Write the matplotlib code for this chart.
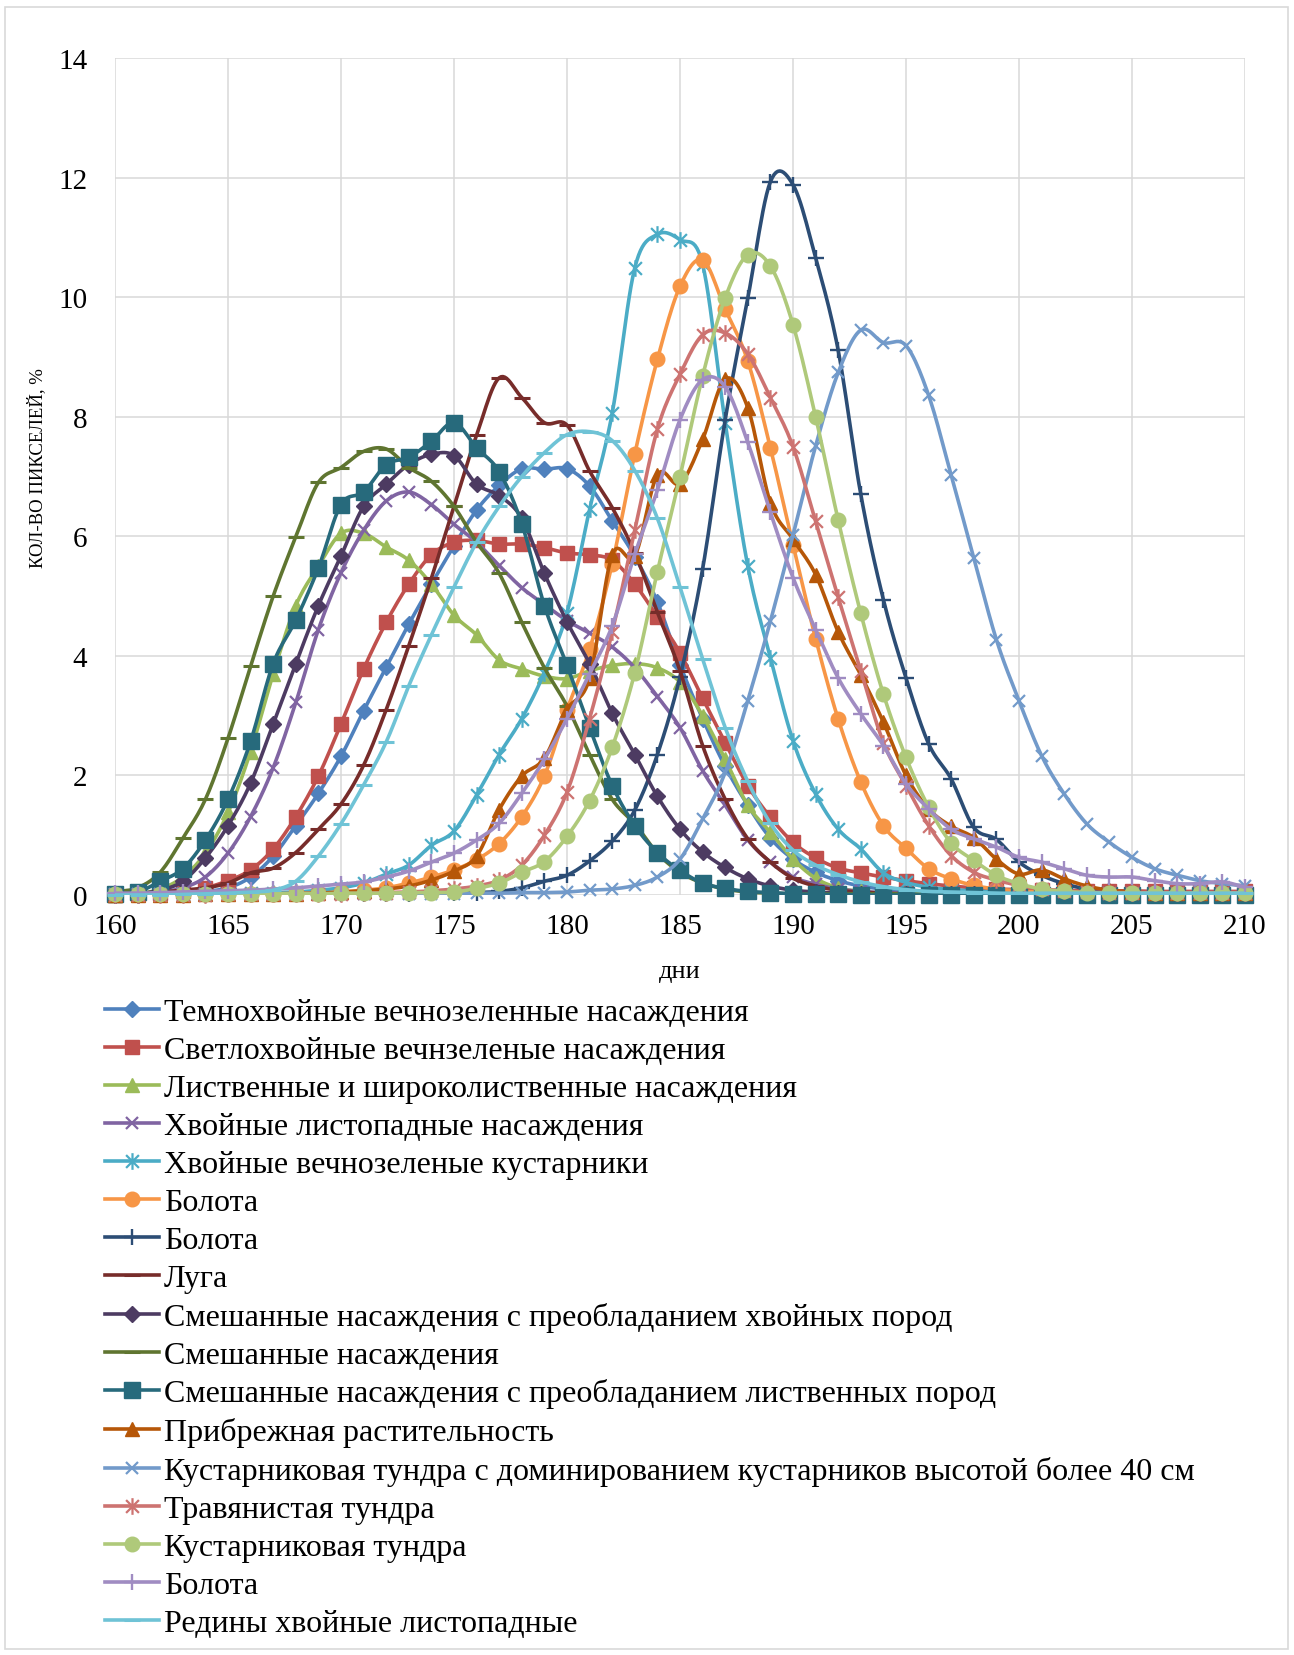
import numpy as np
import matplotlib
matplotlib.use("Agg")
import matplotlib.pyplot as plt
from matplotlib.path import Path
from matplotlib.lines import Line2D
from matplotlib.patches import Rectangle

plt.rcParams['font.family'] = ['Liberation Serif', 'DejaVu Serif']

days = list(range(160, 211))

labels = [
    "Темнохвойные вечнозеленные насаждения",
    "Светлохвойные вечнзеленые насаждения",
    "Лиственные и широколиственные насаждения",
    "Хвойные листопадные насаждения",
    "Хвойные вечнозеленые кустарники",
    "Болота",
    "Болота",
    "Луга",
    "Смешанные насаждения с преобладанием хвойных пород",
    "Смешанные насаждения",
    "Смешанные насаждения с преобладанием лиственных пород",
    "Прибрежная растительность",
    "Кустарниковая тундра с доминированием кустарников высотой более 40 см",
    "Травянистая тундра",
    "Кустарниковая тундра",
    "Болота",
    "Редины хвойные листопадные",
]

temnokhvoynye = [0, 0, 0.01, 0.03, 0.06, 0.12, 0.3, 0.65, 1.16, 1.7,
                 2.32, 3.08, 3.81, 4.53, 5.2, 5.84, 6.44, 6.85, 7.13, 7.12,
                 7.13, 6.84, 6.26, 5.66, 4.9, 3.85, 2.95, 2.15, 1.5, 0.95,
                 0.6, 0.38, 0.24, 0.15, 0.1, 0.07, 0.05, 0.04, 0.03, 0.02,
                 0.02, 0.01, 0.01, 0.01, 0.01, 0.01, 0.01, 0.01, 0.01, 0.01, 0.01]
svetlokhvoynye = [0, 0.01, 0.03, 0.06, 0.12, 0.24, 0.42, 0.77, 1.31, 1.99,
                  2.86, 3.78, 4.56, 5.2, 5.69, 5.9, 5.93, 5.87, 5.87, 5.81,
                  5.72, 5.69, 5.6, 5.2, 4.65, 4.05, 3.29, 2.55, 1.83, 1.3,
                  0.88, 0.62, 0.45, 0.37, 0.3, 0.24, 0.19, 0.15, 0.12, 0.1,
                  0.09, 0.08, 0.08, 0.07, 0.07, 0.07, 0.06, 0.06, 0.06, 0.06, 0.06]
listvennye = [0, 0.02, 0.1, 0.3, 0.7, 1.38, 2.4, 3.7, 4.84, 5.5,
              6.05, 6.05, 5.82, 5.6, 5.2, 4.68, 4.35, 3.93, 3.78, 3.66,
              3.62, 3.75, 3.84, 3.87, 3.8, 3.56, 3.0, 2.27, 1.5, 1.05,
              0.6, 0.28, 0.12, 0.06, 0.03, 0.02, 0.01, 0.01, 0.01, 0.01,
              0.01, 0.01, 0.01, 0.01, 0.01, 0.01, 0.01, 0.01, 0.01, 0.01, 0.01]
khv_listopadnye = [0, 0.02, 0.05, 0.12, 0.3, 0.7, 1.31, 2.13, 3.22, 4.44,
                   5.39, 6.1, 6.59, 6.74, 6.53, 6.2, 5.9, 5.51, 5.14, 4.86,
                   4.59, 4.38, 4.15, 3.8, 3.32, 2.8, 2.08, 1.5, 0.92, 0.55,
                   0.3, 0.18, 0.1, 0.06, 0.04, 0.03, 0.02, 0.02, 0.02, 0.01,
                   0.01, 0.01, 0.01, 0.01, 0.01, 0.01, 0.01, 0.01, 0.01, 0.01, 0.01]
khv_kustarniki = [0, 0, 0.01, 0.01, 0.02, 0.02, 0.03, 0.04, 0.05, 0.08,
                  0.12, 0.2, 0.35, 0.5, 0.83, 1.07, 1.67, 2.35, 2.95, 3.72,
                  4.72, 6.45, 8.06, 10.49, 11.05, 10.96, 10.55, 7.9, 5.5, 3.97,
                  2.58, 1.69, 1.1, 0.77, 0.37, 0.21, 0.13, 0.09, 0.07, 0.05,
                  0.04, 0.03, 0.03, 0.02, 0.02, 0.02, 0.02, 0.02, 0.02, 0.02, 0.02]
bolota_1 = [0.02, 0.02, 0.02, 0.02, 0.02, 0.02, 0.02, 0.02, 0.03, 0.03,
            0.05, 0.08, 0.12, 0.2, 0.3, 0.42, 0.59, 0.86, 1.31, 1.99,
            3.1, 4.11, 5.54, 7.38, 8.96, 10.18, 10.62, 9.8, 8.93, 7.48,
            5.86, 4.29, 2.94, 1.89, 1.16, 0.78, 0.44, 0.27, 0.16, 0.1,
            0.07, 0.05, 0.04, 0.03, 0.03, 0.03, 0.03, 0.03, 0.03, 0.03, 0.03]
bolota_2 = [0.02, 0.02, 0.02, 0.02, 0.02, 0.02, 0.02, 0.02, 0.02, 0.02,
            0.02, 0.02, 0.02, 0.02, 0.03, 0.03, 0.04, 0.06, 0.12, 0.23,
            0.33, 0.57, 0.9, 1.42, 2.35, 3.65, 5.45, 7.95, 9.98, 11.93,
            11.88, 10.66, 9.11, 6.7, 4.94, 3.63, 2.53, 1.94, 1.13, 0.93,
            0.55, 0.33, 0.19, 0.1, 0.06, 0.04, 0.03, 0.02, 0.02, 0.02, 0.02]
luga = [0.02, 0.03, 0.05, 0.08, 0.12, 0.2, 0.37, 0.45, 0.71, 1.1,
        1.52, 2.17, 3.1, 4.17, 5.3, 6.5, 7.69, 8.65, 8.32, 7.9,
        7.86, 7.09, 6.48, 5.72, 4.73, 3.75, 2.5, 1.6, 0.94, 0.55,
        0.28, 0.15, 0.08, 0.05, 0.03, 0.02, 0.02, 0.02, 0.02, 0.02,
        0.02, 0.02, 0.02, 0.02, 0.02, 0.02, 0.02, 0.02, 0.02, 0.02, 0.02]
smesh_khvoynye = [0, 0.02, 0.08, 0.23, 0.62, 1.16, 1.87, 2.86, 3.87, 4.84,
                  5.67, 6.5, 6.87, 7.2, 7.37, 7.35, 6.87, 6.68, 6.3, 5.38,
                  4.57, 3.87, 3.04, 2.35, 1.65, 1.1, 0.72, 0.46, 0.27, 0.15,
                  0.08, 0.05, 0.03, 0.02, 0.01, 0.01, 0.01, 0.01, 0.01, 0.01,
                  0.01, 0.01, 0.01, 0.01, 0.01, 0.01, 0.01, 0.01, 0.01, 0.01, 0.01]
smeshannye = [0.05, 0.12, 0.38, 0.95, 1.6, 2.62, 3.83, 5.0, 5.99, 6.9,
              7.15, 7.42, 7.46, 7.15, 6.92, 6.5, 5.9, 5.38, 4.56, 3.8,
              3.16, 2.35, 1.6, 1.19, 0.7, 0.38, 0.2, 0.1, 0.05, 0.03,
              0.02, 0.02, 0.02, 0.02, 0.02, 0.02, 0.02, 0.02, 0.02, 0.02,
              0.02, 0.02, 0.02, 0.02, 0.02, 0.02, 0.02, 0.02, 0.02, 0.02, 0.02]
smesh_listvennye = [0.02, 0.05, 0.23, 0.44, 0.92, 1.6, 2.57, 3.87, 4.6, 5.47,
                    6.53, 6.74, 7.2, 7.32, 7.59, 7.9, 7.48, 7.08, 6.21, 4.84,
                    3.84, 2.8, 1.83, 1.16, 0.71, 0.41, 0.2, 0.11, 0.06, 0.04,
                    0.02, 0.01, 0.01, 0, 0, 0, 0, 0, 0, 0,
                    0, 0, 0, 0, 0, 0, 0, 0, 0, 0, 0]
pribrezhnaya = [0, 0, 0, 0, 0.01, 0.01, 0.01, 0.02, 0.02, 0.03,
                0.05, 0.07, 0.1, 0.15, 0.25, 0.4, 0.65, 1.43, 1.99, 2.29,
                3.1, 3.63, 5.69, 5.67, 7.03, 6.88, 7.62, 8.63, 8.15, 6.56,
                5.95, 5.36, 4.4, 3.68, 2.89, 2.0, 1.44, 1.15, 0.96, 0.6,
                0.35, 0.42, 0.27, 0.15, 0.08, 0.05, 0.03, 0.03, 0.03, 0.03, 0.03]
kust_tundra_40 = [0.02, 0.02, 0.02, 0.02, 0.02, 0.02, 0.02, 0.02, 0.02, 0.02,
                  0.02, 0.02, 0.02, 0.02, 0.02, 0.02, 0.03, 0.03, 0.04, 0.04,
                  0.05, 0.08, 0.1, 0.16, 0.3, 0.6, 1.27, 2.05, 3.25, 4.58,
                  6.02, 7.51, 8.74, 9.45, 9.24, 9.19, 8.36, 7.02, 5.64, 4.27,
                  3.25, 2.33, 1.69, 1.19, 0.88, 0.63, 0.44, 0.33, 0.24, 0.19, 0.15]
travyanistaya = [0, 0, 0, 0, 0, 0.01, 0.01, 0.01, 0.01, 0.01,
                 0.02, 0.03, 0.04, 0.05, 0.07, 0.1, 0.15, 0.25, 0.5, 1.0,
                 1.72, 2.95, 4.4, 6.1, 7.79, 8.71, 9.37, 9.4, 9.05, 8.32,
                 7.5, 6.25, 4.98, 3.75, 2.55, 1.83, 1.16, 0.66, 0.38, 0.25,
                 0.16, 0.1, 0.07, 0.05, 0.04, 0.04, 0.04, 0.04, 0.04, 0.04, 0.04]
kust_tundra = [0.02, 0.02, 0.02, 0.02, 0.02, 0.02, 0.02, 0.02, 0.02, 0.02,
               0.03, 0.03, 0.03, 0.04, 0.04, 0.05, 0.11, 0.2, 0.38, 0.56,
               0.98, 1.58, 2.47, 3.72, 5.41, 7.0, 8.68, 9.99, 10.71, 10.52,
               9.54, 8.0, 6.27, 4.71, 3.36, 2.3, 1.47, 0.87, 0.58, 0.33,
               0.19, 0.1, 0.06, 0.04, 0.03, 0.03, 0.03, 0.03, 0.03, 0.03, 0.03]
bolota_3 = [0.03, 0.03, 0.04, 0.05, 0.06, 0.07, 0.08, 0.1, 0.12, 0.15,
            0.18, 0.22, 0.3, 0.4, 0.55, 0.7, 0.92, 1.2, 1.7, 2.27,
            2.95, 3.7, 4.5, 5.7, 6.77, 7.95, 8.62, 8.5, 7.57, 6.4,
            5.31, 4.44, 3.63, 3.03, 2.5, 1.86, 1.44, 1.1, 0.94, 0.8,
            0.63, 0.55, 0.44, 0.33, 0.3, 0.3, 0.24, 0.19, 0.19, 0.22, 0.13]
rediny = [0, 0, 0, 0.01, 0.02, 0.03, 0.05, 0.08, 0.23, 0.65,
          1.19, 1.84, 2.56, 3.5, 4.35, 5.15, 5.9, 6.5, 7.0, 7.4,
          7.7, 7.75, 7.6, 7.1, 6.3, 5.15, 3.95, 2.8, 1.9, 1.2,
          0.75, 0.5, 0.34, 0.22, 0.14, 0.09, 0.06, 0.05, 0.04, 0.03,
          0.03, 0.03, 0.03, 0.03, 0.03, 0.03, 0.03, 0.03, 0.03, 0.03, 0.03]

series = [temnokhvoynye, svetlokhvoynye, listvennye, khv_listopadnye, khv_kustarniki,
          bolota_1, bolota_2, luga, smesh_khvoynye, smeshannye, smesh_listvennye,
          pribrezhnaya, kust_tundra_40, travyanistaya, kust_tundra, bolota_3, rediny]

colors = ['#4F81BD', '#C0504D', '#9BBB59', '#8064A2', '#4BACC6', '#F79646',
          '#2C4D75', '#772C2A', '#4D3B62', '#5F7530', '#276A7C', '#B65708',
          '#729ACA', '#CD7371', '#AFC97A', '#A08CC2', '#6FC3D6']

star = Path([(-1, -1), (1, 1), (-1, 1), (1, -1), (0, -1.3), (0, 1.3)],
            [Path.MOVETO, Path.LINETO, Path.MOVETO, Path.LINETO, Path.MOVETO, Path.LINETO])

# (marker, size, edge width, filled)
mstyles = [('D', 8, 1, True), ('s', 10, 1, True), ('^', 10.5, 1, True), ('x', 9, 1.6, False),
           (star, 12, 1.6, False), ('o', 10.5, 1, True), ('+', 11, 1.7, False), ('_', 11, 2.2, False),
           ('D', 8, 1, True), ('_', 11, 2.2, False), ('s', 11, 1, True), ('^', 10.5, 1, True),
           ('x', 9, 1.6, False), (star, 12, 1.6, False), ('o', 10.5, 1, True), ('+', 11, 1.7, False),
           ('_', 11, 2.2, False)]


def smooth(x, y, n=12):
    P = np.column_stack([np.asarray(x, float), np.asarray(y, float)])
    E = np.vstack([2 * P[0] - P[1], P, 2 * P[-1] - P[-2]])
    t = np.linspace(0, 1, n, endpoint=False)[:, None]
    out = []
    for i in range(len(P) - 1):
        p0, p1, p2, p3 = E[i], E[i + 1], E[i + 2], E[i + 3]
        c1 = p1 + (p2 - p0) / 6.0
        c2 = p2 - (p3 - p1) / 6.0
        out.append((1 - t) ** 3 * p1 + 3 * (1 - t) ** 2 * t * c1 + 3 * (1 - t) * t ** 2 * c2 + t ** 3 * p2)
    out.append(P[-1:])
    B = np.vstack(out)
    return B[:, 0], B[:, 1]


fig = plt.figure(figsize=(12.94, 16.56), dpi=100)
ax = fig.add_axes([115 / 1294, 1 - 896 / 1656, 1130 / 1294, 837 / 1656])

handles = []
lw = 2.6
for i, (vals, col, lab) in enumerate(zip(series, colors, labels)):
    mk, ms, mew, filled = mstyles[i]
    sx, sy = smooth(days, vals)
    z = 3 + i * 0.1
    ax.plot(sx, sy, color=col, lw=lw, solid_capstyle='round', zorder=z)
    ax.plot(days, vals, ls='none', marker=mk, ms=ms, mew=mew, color=col,
            mfc=col if filled else 'none', mec=col, zorder=z + 0.05, clip_on=False)
    handles.append(Line2D([], [], color=col, lw=lw, marker=mk, ms=ms, mew=mew,
                          mfc=col if filled else 'none', mec=col))

ax.set_xlim(160, 210)
ax.set_ylim(0, 14)
ax.set_xticks(range(160, 211, 5))
ax.set_yticks(range(0, 15, 2))
ax.grid(True, color='#D9D9D9', lw=1.1, zorder=0)
ax.set_axisbelow(True)
for s in ax.spines.values():
    s.set_visible(False)
ax.tick_params(axis='both', length=0, labelsize=21, colors='black')
ax.tick_params(axis='x', pad=13)
ax.tick_params(axis='y', pad=20)

fig.text(37 / 1294, 1 - 468 / 1656, "КОЛ-ВО ПИКСЕЛЕЙ, %", rotation=90,
         ha='center', va='center', fontsize=13.5)
fig.text(680 / 1294, 1 - 978 / 1656, "дни", ha='center', va='baseline', fontsize=19)

fig.legend(handles=handles, labels=labels, loc='upper left',
           bbox_to_anchor=(105 / 1294, 1 - 999 / 1656), frameon=False,
           fontsize=23, handlelength=1.7, handletextpad=0.15, labelspacing=0.27,
           borderpad=0, borderaxespad=0)

fig.patches.append(Rectangle((5 / 1294, 6 / 1656), 1283 / 1294, 1642 / 1656,
                             transform=fig.transFigure, fill=False,
                             edgecolor='#D9D9D9', lw=1.2))

fig.savefig("out.png", dpi=100)
